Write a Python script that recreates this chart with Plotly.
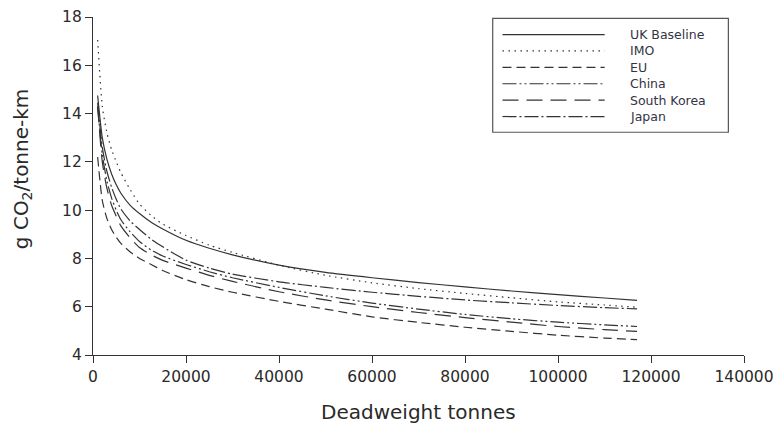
import plotly.graph_objects as go

# Deadweight tonnage (x) and emission intensity, g CO2 per tonne-km (y)
dwt = [1000, 2000, 3000, 4000, 5000, 6000, 8000, 10000, 12500, 15000, 20000,
       25000, 30000, 40000, 50000, 60000, 70000, 80000, 90000, 100000, 110000, 117000]

uk_baseline = [14.75, 13.0, 12.1, 11.5, 11.05, 10.7, 10.2, 9.86, 9.5, 9.22, 8.75,
               8.42, 8.15, 7.72, 7.42, 7.2, 7.0, 6.82, 6.65, 6.5, 6.36, 6.26]
imo = [17.05, 14.3, 13.2, 12.5, 12.0, 11.55, 10.85, 10.25, 9.78, 9.42, 8.95,
       8.55, 8.25, 7.72, 7.3, 6.99, 6.75, 6.55, 6.37, 6.2, 6.07, 5.98]
eu = [12.2, 10.4, 9.65, 9.2, 8.88, 8.62, 8.27, 8.0, 7.75, 7.5, 7.12,
      6.83, 6.6, 6.22, 5.9, 5.58, 5.35, 5.15, 4.98, 4.82, 4.7, 4.64]
china = [14.3, 12.3, 11.2, 10.5, 10.0, 9.6, 9.1, 8.7, 8.35, 8.1, 7.75,
         7.45, 7.2, 6.8, 6.45, 6.15, 5.9, 5.68, 5.5, 5.36, 5.25, 5.18]
south_korea = [14.3, 12.0, 10.9, 10.2, 9.75, 9.35, 8.85, 8.45, 8.15, 7.92, 7.6,
               7.3, 7.05, 6.62, 6.28, 6.0, 5.76, 5.55, 5.36, 5.18, 5.05, 4.98]
japan = [14.45, 12.6, 11.6, 10.95, 10.45, 10.05, 9.55, 9.2, 8.8, 8.48, 7.93,
         7.6, 7.35, 7.03, 6.8, 6.6, 6.43, 6.28, 6.16, 6.05, 5.96, 5.91]

names = ["UK Baseline", "IMO", "EU", "China", "South Korea", "Japan"]
values = [uk_baseline, imo, eu, china, south_korea, japan]
dashes = ["solid", "1.5px,4.5px", "9px,5px", "14px,3px,2px,3px,2px,3px",
          "16px,8px", "14px,3px,2px,3px"]

x_ticks = list(range(0, 140001, 20000))
y_ticks = list(range(4, 19, 2))

FONT = "DejaVu Sans"
INK = "#2a2a2a"
LINE = "#333333"

fig = go.Figure()
for name, ys, dash in zip(names, values, dashes):
    fig.add_trace(go.Scatter(
        x=dwt, y=ys, name=name, mode="lines",
        line=dict(color=LINE, width=1.2, dash=dash, shape="spline", smoothing=0.6),
        showlegend=False,
    ))

# Boxed key drawn with long line samples
box_x0, box_x1 = 0.614, 0.976
box_y0, box_y1 = 0.659, 0.996
sample_x0, sample_x1, text_x = 0.629, 0.786, 0.822
row_top, row_step = 0.948, 0.0485
shapes = [dict(type="rect", xref="paper", yref="paper",
               x0=box_x0, x1=box_x1, y0=box_y0, y1=box_y1,
               line=dict(color="#555555", width=1.2), fillcolor="white", layer="below")]
annotations = []
for i, (name, dash) in enumerate(zip(names, dashes)):
    yy = row_top - i * row_step
    shapes.append(dict(type="line", xref="paper", yref="paper",
                       x0=sample_x0, x1=sample_x1, y0=yy, y1=yy,
                       line=dict(color=LINE, width=1.2, dash=dash)))
    annotations.append(dict(xref="paper", yref="paper", x=text_x, y=yy,
                            text=name, showarrow=False, xanchor="left", yanchor="middle",
                            font=dict(family=FONT, size=12.5, color="#333344")))

annotations.append(dict(xref="paper", yref="paper", x=-0.109, y=0.55,
                        text="g CO<sub>2</sub>/tonne-km", textangle=-90, showarrow=False,
                        xanchor="center", yanchor="middle",
                        font=dict(family=FONT, size=20, color=INK)))
annotations.append(dict(xref="paper", yref="paper", x=0.5, y=-0.168,
                        text="Deadweight tonnes", showarrow=False,
                        xanchor="center", yanchor="middle",
                        font=dict(family=FONT, size=20, color=INK)))

fig.update_layout(
    width=775, height=428,
    margin=dict(l=93, r=31, t=17, b=73),
    template="none",
    paper_bgcolor="white", plot_bgcolor="white",
    shapes=shapes, annotations=annotations,
    font=dict(family=FONT, color=INK),
)
fig.update_xaxes(
    range=[0, 140000], tickvals=x_ticks, tickformat="d",
    ticks="outside", ticklen=7, tickwidth=1.2, tickcolor=LINE,
    showline=True, linecolor=LINE, linewidth=1.3,
    showgrid=False, zeroline=False,
    tickfont=dict(family=FONT, size=15.5, color=INK),
)
fig.update_yaxes(
    range=[4, 18], tickvals=y_ticks,
    ticks="outside", ticklen=7, tickwidth=1.2, tickcolor=LINE,
    showline=True, linecolor=LINE, linewidth=1.3,
    showgrid=False, zeroline=False,
    tickfont=dict(family=FONT, size=15.5, color=INK),
)

fig.write_html("out.html")
